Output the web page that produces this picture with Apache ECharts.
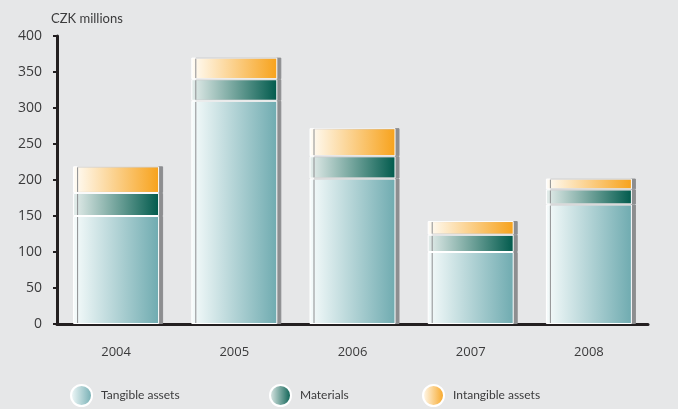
<!DOCTYPE html>
<html>
<head>
<meta charset="utf-8">
<script src="https://cdn.jsdelivr.net/npm/echarts@6/dist/echarts.min.js"></script>
<style>
  html, body { margin: 0; padding: 0; background: #e6e7e8; }
  #chart { width: 678px; height: 409px; }
</style>
</head>
<body>
<div id="chart"></div>
<script>
// Capital expenditure breakdown, CZK millions
const years = ['2004', '2005', '2006', '2007', '2008'];
const tangibleAssets = [150, 310, 202, 100, 166];
const materials = [32, 30, 31, 24, 21];
const intangibleAssets = [37, 30, 39, 19, 15];
const yTicks = { min: 0, max: 400, step: 50 };

const seriesNames = ['Tangible assets', 'Materials', 'Intangible assets'];

const textFont = "Lato, 'Open Sans', sans-serif";
const labelFont = "'Open Sans', 'Liberation Sans', sans-serif";

function hGradient(from, to) {
  return new echarts.graphic.LinearGradient(0, 0, 1, 0, [
    { offset: 0, color: from },
    { offset: 1, color: to }
  ]);
}

const palette = [
  hGradient('#f7fcfc', '#6fabb0'),
  hGradient('#e6eeec', '#005a4c'),
  hGradient('#fffdf8', '#f7a21b')
];

function barSeries(name, values, color) {
  return {
    name: name,
    type: 'bar',
    stack: 'total',
    barWidth: 86,
    data: values,
    itemStyle: {
      color: color,
      borderColor: '#ffffff',
      borderWidth: 1,
      shadowColor: '#8d8e90',
      shadowOffsetX: 4,
      shadowOffsetY: 0,
      shadowBlur: 0
    },
    emphasis: { disabled: true }
  };
}

function legendAt(name, left) {
  return {
    data: [name],
    left: left,
    top: 384,
    padding: 0,
    icon: 'circle',
    itemWidth: 21,
    itemHeight: 21,
    selectedMode: false,
    textStyle: {
      fontFamily: textFont,
      fontSize: 12,
      color: '#3b3b3c',
      padding: [0, 0, 0, 4]
    }
  };
}

const chart = echarts.init(document.getElementById('chart'), null, { renderer: 'canvas' });

chart.setOption({
  backgroundColor: '#e6e7e8',
  animation: false,
  title: {
    text: 'CZK millions',
    left: 51,
    top: 12,
    padding: 0,
    textStyle: {
      fontFamily: textFont,
      fontSize: 13,
      fontWeight: 'normal',
      color: '#3b3b3c'
    }
  },
  legend: [
    legendAt(seriesNames[0], 70),
    legendAt(seriesNames[1], 269),
    legendAt(seriesNames[2], 422)
  ],
  grid: {
    left: 57,
    right: 30,
    top: 36,
    bottom: 85,
    containLabel: false
  },
  xAxis: {
    type: 'category',
    data: years,
    axisLine: { show: true, lineStyle: { color: '#231f20', width: 3 } },
    axisTick: { show: false },
    axisLabel: {
      margin: 22,
      fontFamily: labelFont,
      fontSize: 13,
      color: '#3b3b3c'
    },
    splitLine: { show: false }
  },
  yAxis: {
    type: 'value',
    min: yTicks.min,
    max: yTicks.max,
    interval: yTicks.step,
    axisLine: { show: true, lineStyle: { color: '#231f20', width: 3 } },
    axisTick: { show: true, length: 4, lineStyle: { color: '#231f20', width: 2 } },
    axisLabel: {
      margin: 15,
      fontFamily: labelFont,
      fontSize: 14,
      color: '#3b3b3c'
    },
    splitLine: { show: false }
  },
  series: [
    barSeries(seriesNames[0], tangibleAssets, palette[0]),
    barSeries(seriesNames[1], materials, palette[1]),
    barSeries(seriesNames[2], intangibleAssets, palette[2])
  ]
});
</script>
</body>
</html>
